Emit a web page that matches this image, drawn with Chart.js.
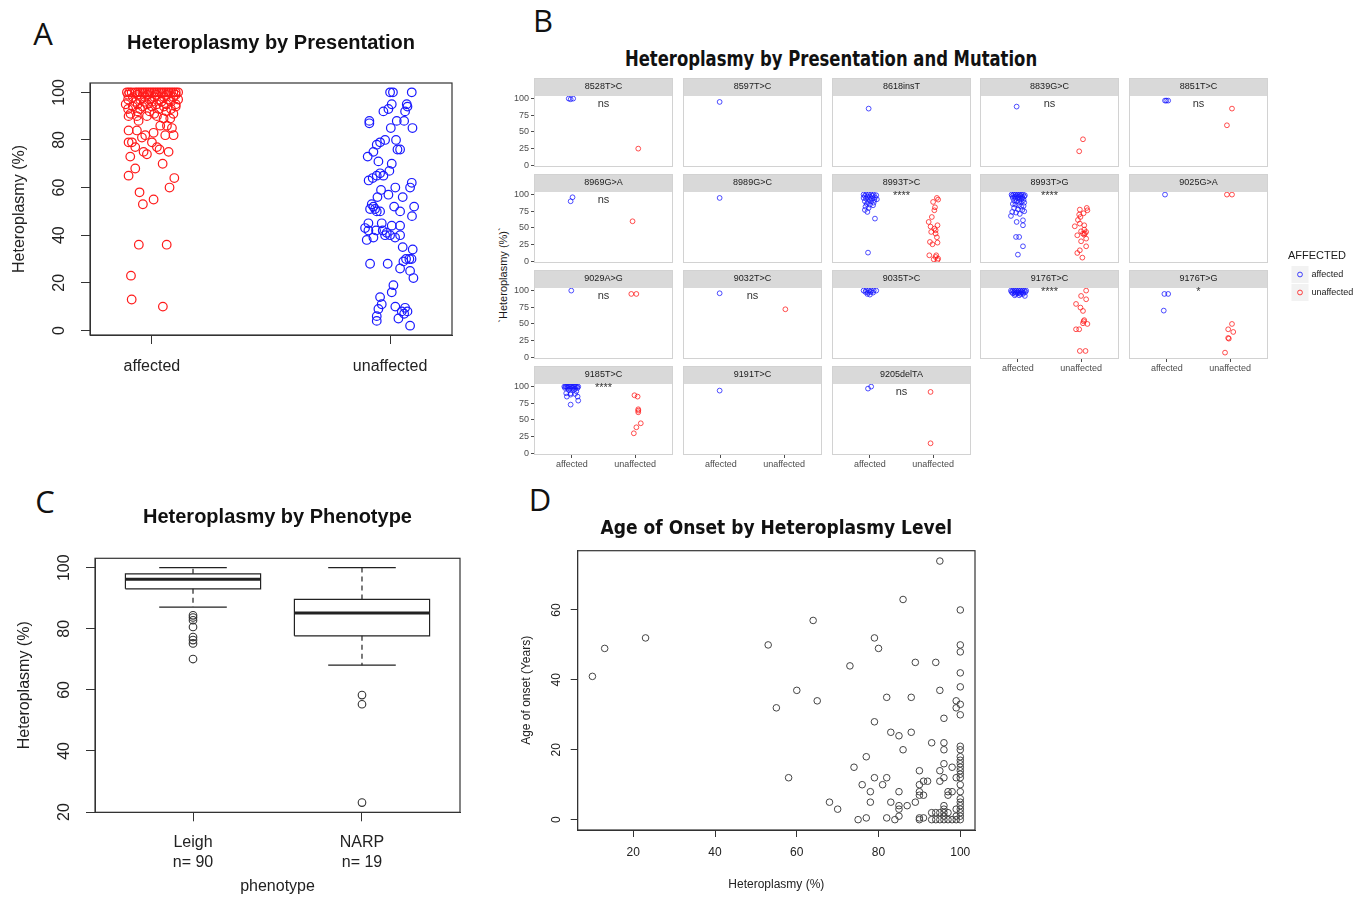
<!DOCTYPE html>
<html><head><meta charset="utf-8">
<script src="https://cdn.jsdelivr.net/npm/chart.js@4.4.1/dist/chart.umd.min.js"></script>
<style>
body{margin:0;background:#fff;width:1368px;height:899px;overflow:hidden;position:relative;font-family:'Liberation Sans',Arial,sans-serif;}
canvas{position:absolute;}
.t{position:absolute;white-space:nowrap;transform:translate(-50%,-50%);line-height:1;}
.letter{font-family:'Open Sans',sans-serif;font-size:31px;color:#111;}
</style></head><body>
<div class="t letter" style="left:43px;top:33px">A</div>
<div class="t letter" style="left:543px;top:20px">B</div>
<div class="t letter" style="left:45px;top:501px">C</div>
<div class="t letter" style="left:540px;top:499px">D</div>
<div class="t" style="left:831px;top:59px;transform:translate(-50%,-50%) scaleX(0.87);font-family:'Liberation Sans Narrow','DejaVu Sans Condensed','Liberation Sans',sans-serif;font-weight:bold;font-size:21px;color:#111">Heteroplasmy by Presentation and Mutation</div>
<div class="t" style="left:503px;top:275px;transform:translate(-50%,-50%) rotate(-90deg);font-size:11px;color:#1a1a1a">`Heteroplasmy (%)`</div>
<script>
// ---------------- DATA ----------------
// Panel A
const presentation = ['affected', 'unaffected'];
const presTicks = [0, 20, 40, 60, 80, 100];
const presAffected = [
 [0.895,100],[0.905,100],[0.915,100],[0.93,100],[0.94,100],[0.95,100],[0.96,100],[0.97,100],[0.98,100],[0.99,100],[1.0,100],[1.01,100],[1.02,100],[1.03,100],[1.04,100],[1.05,100],[1.06,100],[1.07,100],[1.08,100],[1.09,100],[1.1,100],[1.11,100],
 [0.9,99],[0.94,99],[0.98,99],[1.02,99],[1.06,99],[1.1,99],
 [0.92,98],[0.97,98],[1.01,98],[1.05,98],[1.09,98],
 [0.9,97],[0.95,97],[0.99,97],[1.03,97],[1.07,97],[1.11,97],
 [0.93,96],[0.97,96],[1.0,96],[1.04,96],[1.08,96],
 [0.89,95],[0.94,95],[0.98,95],[1.02,95],[1.06,95],[1.1,95],
 [0.92,94],[0.96,94],[1.0,94],[1.05,94],[1.1,94],
 [0.9,93],[0.95,93],[1.03,93],[1.08,93],
 [0.94,92],[0.99,92],[1.06,92],
 [0.91,91],[1.01,91],[1.09,91],
 [0.902,90],[0.937,90],[0.979,90],[1.021,90],[1.049,89],[1.077,89],[0.944,88],[1.035,86],[1.063,86],[1.084,85],
 [0.902,84],[0.937,84],[0.972,82],[1.007,83],[1.056,82],[1.091,82],[0.902,79],[0.916,79],[0.958,81],[0.93,77],
 [1.0,79],[1.021,77],[0.965,75],[0.979,74],[1.032,76],[1.07,75],[0.909,73],[1.045,70],[0.93,68],[0.902,65],
 [1.094,64],[1.074,60],[0.948,58],[1.007,55],[0.962,53],[0.945,36],[1.062,36],[0.912,23],[0.915,13],[1.046,10]
];
const presUnaffected = [
 [2.0,100],[2.012,100],[2.091,100],[2.007,95],[2.07,95],[2.073,94],[1.993,93],[1.972,92],[2.063,92],[2.028,88],
 [2.059,88],[1.913,88],[1.913,87],[2.003,85],[2.094,85],[2.025,80],[1.979,80],[1.958,79],[1.944,78],[1.93,75],
 [2.031,76],[2.042,76],[1.906,73],[1.951,71],[2.007,70],[1.997,67],[1.958,66],[1.944,65],[1.927,64],[1.91,63],
 [1.972,65],[2.091,62],[2.084,60],[2.022,60],[1.962,59],[1.993,57],[2.053,56],[1.947,56],[1.923,53],[1.93,52],
 [1.937,51],[1.944,50],[1.958,50],[1.916,51],[2.017,52],[2.101,52],[2.042,50],[2.092,48],[1.909,45],[1.965,45],
 [2.042,44],[2.007,44],[1.895,43],[1.909,42],[1.941,42],[1.969,42],[1.986,41],[1.979,40],[2.0,40],[2.042,40],
 [2.021,39],[1.93,39],[1.902,38],[2.053,35],[2.095,34],[2.067,30],[2.081,30],[2.09,30],[2.056,29],[1.916,28],
 [1.99,28],[2.042,26],[2.084,25],[2.098,22],[2.014,19],[2.007,16],[1.958,14],[1.965,11],[2.022,10],[1.951,9],
 [2.063,9.5],[2.049,8],[2.073,8],[2.059,7],[1.944,6],[2.035,5],[1.944,4],[2.084,2]
];

// Panel B
const mutations = ['8528T>C','8597T>C','8618insT','8839G>C','8851T>C','8969G>A','8989G>C','8993T>C','8993T>G','9025G>A','9029A>G','9032T>C','9035T>C','9176T>C','9176T>G','9185T>C','9191T>C','9205delTA'];
const sigLabels = ['ns','','','ns','ns','ns','','****','****','','ns','ns','','****','*','****','','ns'];
const facetTicks = [0, 25, 50, 75, 100];
const affectedLevels = ['affected', 'unaffected'];
const facetAffected = [
 [[0.95,100],[0.98,99],[1.02,100]],
 [[0.98,95]],
 [[0.98,85]],
 [[0.98,88]],
 [[0.97,97],[0.99,97],[1.02,97]],
 [[0.98,90],[1.01,96]],
 [[0.98,95]],
 [[0.9,100],[0.94,100],[0.98,100],[1.02,100],[1.06,100],[1.1,99],[0.92,98],[0.96,97],[1.0,97],[1.04,98],[1.08,96],[0.9,95],[0.94,94],[0.99,93],[1.03,94],[1.07,92],[1.11,93],[0.92,90],[0.97,89],[1.02,90],[1.06,88],[0.95,86],[1.0,85],[1.05,84],[0.93,82],[0.98,80],[0.92,77],[0.96,74],[1.08,64],[0.97,13]],
 [[0.9,100],[0.93,100],[0.96,100],[0.99,100],[1.02,100],[1.05,100],[1.08,100],[1.11,99],[0.91,98],[0.95,97],[0.98,98],[1.01,97],[1.04,98],[1.07,96],[1.1,97],[0.92,95],[0.96,94],[1.0,95],[1.03,93],[1.06,94],[1.09,92],[0.94,91],[0.98,90],[1.02,89],[1.06,90],[1.1,88],[0.92,86],[0.96,85],[1.01,84],[1.05,82],[1.09,83],[0.94,80],[1.0,78],[1.07,77],[0.91,74],[0.97,73],[1.03,71],[1.1,75],
  [0.89,68],[0.98,59],[1.08,61.5],[1.08,54],[0.97,36.5],[1.02,36.5],[1.08,22.5],[1.0,10]],
 [[0.97,100]],
 [[0.99,100]],
 [[0.98,96]],
 [[0.9,100],[0.94,100],[0.98,100],[1.02,100],[1.06,100],[1.1,100],[0.93,98],[0.97,97],[1.01,98],[1.05,97],[0.96,95],[1.0,94]],
 [[0.89,100],[0.92,100],[0.95,100],[0.98,100],[1.01,100],[1.04,100],[1.07,100],[1.1,100],[1.13,100],[0.9,98],[0.94,98],[0.97,97],[1.0,98],[1.03,97],[1.06,98],[1.09,97],[1.12,98],[0.92,96],[0.96,95],[1.0,96],[1.04,95],[1.08,95],[0.95,93],[1.02,93],[1.11,92]],
 [[0.96,95],[1.02,95],[0.95,70]],
 [[0.88,100],[0.9,100],[0.92,100],[0.94,100],[0.96,100],[0.98,100],[1.0,100],[1.02,100],[1.04,100],[1.06,100],[1.08,100],[1.1,100],[0.89,98],[0.93,98],[0.97,97],[1.01,98],[1.05,97],[1.09,98],[0.95,95],[1.03,95],[1.07,93],[0.91,90],[0.98,90],[1.05,89],[0.98,88],[0.92,85],[1.09,85],[1.1,79],[0.98,73]],
 [[0.98,94]],
 [[0.97,97],[1.02,100]]
];
const facetUnaffected = [
 [[2.05,25]],
 [],
 [],
 [[2.03,39],[1.97,21]],
 [[2.03,85],[1.95,60]],
 [[1.96,60]],
 [],
 [[2.08,92.5],[2.0,89],[2.06,95],[2.02,76.5],[2.03,81],[1.98,66.4],[1.93,59],[2.07,54],[1.96,52],[2.02,49],[2.04,46.5],[1.97,44],[2.04,41.5],[2.06,36],[1.95,29],[2.07,28],[1.99,25.5],[1.94,9],[2.05,9],[2.08,4],[2.04,6.5],[2.01,3],[2.07,2]],
 [[1.98,77.5],[2.09,80],[2.1,76.5],[2.04,72],[1.97,70],[1.99,66.5],[1.95,62],[1.98,56.5],[2.05,54],[1.9,52.5],[2.05,47.5],[2.0,45],[2.08,44],[2.06,42],[2.03,41.5],[2.05,40],[1.94,39],[2.08,34],[2.0,30],[2.08,22.5],[1.98,16.5],[1.94,12.5],[2.02,5.5]],
 [[1.95,100],[2.03,100]],
 [[1.94,95],[2.02,95]],
 [[2.02,72]],
 [],
 [[2.08,100],[2.0,92],[2.08,87],[1.92,80],[1.99,74.5],[2.03,69.5],[2.05,55.7],[2.04,54],[2.03,51],[2.1,50],[1.97,42],[1.92,42],[1.98,9.5],[2.07,9.5]],
 [[2.03,50],[1.97,42],[2.05,38],[1.97,29],[1.98,28],[1.92,7]],
 [[1.99,87],[2.04,85],[2.05,66],[2.05,64],[2.05,61.5],[2.09,45],[2.02,39],[1.98,30]],
 [],
 [[1.96,92],[1.96,15]]
];

// Panel C
const phenotypes = ['Leigh', 'NARP'];
const phenoN = [90, 19];
const phenoTicks = [20, 40, 60, 80, 100];
const boxQ1 = [93.1, 77.7];
const boxMedian = [96.2, 85.2];
const boxQ3 = [98.0, 89.6];
const whiskerLow = [87.1, 68.1];
const whiskerHigh = [100, 100];
const phenoOutliers = [[84.4, 83.7, 82.8, 80.6, 77.3, 76.3, 75.2, 70.1], [58.3, 55.3, 23.1]];

// Panel D
const hetTicks = [20, 40, 60, 80, 100];
const ageTicks = [0, 20, 40, 60];
const onsetHet = [10,13,23,53,55,58,60,64,65,68,70,73,74,75,76,77,77,78,78,79,79,79,80,81,82,82,82,83,83,84,85,85,85,85,85,86,86,87,88,88,89,89,90,90,90,90,90,90,91,91,91,92,93,93,93,94,94,94,95,95,95,95,95,95,96,96,96,96,96,96,96,96,96,96,97,97,97,97,98,98,98,99,99,99,99,99,99,100,100,100,100,100,100,100,100,100,100,100,100,100,100,100,100,100,100,100,100,100,100,100,100,100,100];
const onsetAge = [41,49,52,50,32,12,37,57,34,5,3,44,15,0,10,18,0.5,8,5,52,28,12,49,10,35,12,0.5,25,5,0,24,8,4,3,1,63,20,4,35,25,45,5,14,10,8,7,0.5,0,11,7,0.5,11,22,2,0,45,2,0,74,37,14,11,2,0,29,22,20,16,12,4,3,2,1,0,8,7,2,0,15,8,0,34,32,12,3,1,0,60,50,48,42,38,33,30,21,20,18,17,16,15,14,13,12,10,8,6,5,4,3,2,1,0];

// ---------------- HELPERS ----------------
Chart.defaults.font.family = "'Liberation Sans', Arial, sans-serif";
Chart.defaults.animation = false;
Chart.defaults.responsive = false;
Chart.defaults.maintainAspectRatio = false;
Chart.defaults.devicePixelRatio = 1;
Chart.defaults.plugins.legend.display = false;
Chart.defaults.plugins.tooltip.enabled = false;

function addCanvas(left, top, w, h) {
  const c = document.createElement('canvas');
  c.width = w; c.height = h;
  c.style.left = left + 'px'; c.style.top = top + 'px';
  c.style.width = w + 'px'; c.style.height = h + 'px';
  document.body.appendChild(c);
  return c;
}
const fixedTicks = vals => scale => { scale.ticks = vals.map(v => ({ value: v })); };
const toPts = arr => arr.map(p => ({ x: p[0], y: p[1] }));

const framePlugin = {
  id: 'frame',
  afterDatasetsDraw(chart, args, opts) {
    const { ctx, chartArea: a } = chart;
    ctx.save();
    ctx.strokeStyle = opts.color || '#333';
    ctx.lineWidth = opts.width || 1;
    ctx.strokeRect(a.left, a.top, a.right - a.left, a.bottom - a.top);
    ctx.restore();
  }
};

function rYAxis(o) {
  return {
    type: 'linear', min: o.min, max: o.max,
    afterBuildTicks: fixedTicks(o.ticks),
    afterFit: s => { s.width = o.width; },
    ticks: { autoSkip: false, minRotation: 90, maxRotation: 90, crossAlign: 'center', padding: o.pad,
      font: { size: o.size }, color: '#222', callback: v => String(v) },
    grid: { display: true, drawOnChartArea: false, drawTicks: true, tickLength: o.tl, color: '#333' },
    border: { display: true, color: '#333' },
    title: { display: true, text: o.title, font: { size: o.titleSize }, color: '#222', padding: { top: o.titlePad, bottom: 0 } }
  };
}
function rXAxis(o) {
  return {
    type: 'linear', min: o.min, max: o.max,
    afterBuildTicks: fixedTicks(o.ticks),
    afterFit: s => { s.height = o.height; },
    ticks: { autoSkip: false, minRotation: 0, maxRotation: 0, padding: o.pad,
      font: { size: o.size, lineHeight: o.lh || 1.2 }, color: '#222', callback: o.cb || (v => String(v)) },
    grid: { display: true, drawOnChartArea: false, drawTicks: true, tickLength: o.tl, color: '#333' },
    border: { display: true, color: '#333' },
    title: o.title ? { display: true, text: o.title, font: { size: o.titleSize }, color: '#222', padding: { top: 0, bottom: o.titlePad } } : { display: false }
  };
}

// ---------------- PANEL A ----------------
new Chart(addCanvas(0, 20, 462, 375), {
  type: 'scatter',
  data: { datasets: [
    { data: toPts(presAffected), borderColor: '#ff1a1a', backgroundColor: 'rgba(0,0,0,0)', pointRadius: 4.3, borderWidth: 1.2 },
    { data: toPts(presUnaffected), borderColor: '#1a1aff', backgroundColor: 'rgba(0,0,0,0)', pointRadius: 4.3, borderWidth: 1.2 }
  ]},
  options: {
    layout: { padding: { left: 0, right: 10, top: 0, bottom: 0 } },
    scales: {
      x: rXAxis({ min: 0.74, max: 2.26, ticks: [1, 2], height: 60, pad: 13, size: 16, tl: 9, cb: v => presentation[v - 1] }),
      y: rYAxis({ min: -1.92, max: 103.92, ticks: presTicks, width: 90, pad: 7.7, size: 16, tl: 9, title: 'Heteroplasmy (%)', titleSize: 16, titlePad: 10.4 })
    },
    plugins: {
      title: { display: true, fullSize: false, text: 'Heteroplasmy by Presentation', font: { size: 20, weight: 'bold' }, color: '#111', padding: { top: 11, bottom: 28 } },
      frame: { color: '#333', width: 1.2 }
    }
  },
  plugins: [framePlugin]
});

// ---------------- PANEL B ----------------
const facetLeft = [534, 683, 832, 980, 1129];
const facetTop = [96, 192, 288, 384];
const stripPlugin = {
  id: 'strip',
  beforeDraw(chart) {
    const t = chart.titleBlock, a = chart.chartArea, ctx = chart.ctx;
    ctx.save();
    ctx.fillStyle = '#d9d9d9';
    ctx.fillRect(a.left, t.top, a.right - a.left, a.top - t.top);
    ctx.restore();
  },
  afterDatasetsDraw(chart) {
    const t = chart.titleBlock, a = chart.chartArea, ctx = chart.ctx;
    ctx.save();
    ctx.strokeStyle = '#d2d2d2'; ctx.lineWidth = 1;
    ctx.strokeRect(a.left + 0.5, t.top + 0.5, a.right - a.left - 1, a.bottom - t.top - 1);
    ctx.restore();
  }
};
const sigPlugin = {
  id: 'sig',
  afterDatasetsDraw(chart, args, opts) {
    if (!opts.text) return;
    const { ctx, scales: { x, y } } = chart;
    ctx.save();
    ctx.font = "11px 'Liberation Sans', Arial, sans-serif";
    ctx.fillStyle = '#333'; ctx.textAlign = 'center'; ctx.textBaseline = 'middle';
    ctx.fillText(opts.text, x.getPixelForValue(1.5), y.getPixelForValue(opts.text === 'ns' ? 92 : 98));
    ctx.restore();
  }
};
mutations.forEach((m, i) => {
  const col = i % 5, row = Math.floor(i / 5);
  const first = col === 0;
  const bottom = col < 3 ? row === 3 : row === 2;
  const cv = addCanvas(facetLeft[col] - 25, facetTop[row] - 19, 25 + 142 + 2, 19 + 71 + 16);
  new Chart(cv, {
    type: 'scatter',
    data: { datasets: [
      { data: toPts(facetAffected[i]), borderColor: 'rgba(20,20,255,0.75)', backgroundColor: 'rgba(0,0,0,0)', pointRadius: 2.4, borderWidth: 1 },
      { data: toPts(facetUnaffected[i]), borderColor: 'rgba(255,20,20,0.75)', backgroundColor: 'rgba(0,0,0,0)', pointRadius: 2.4, borderWidth: 1 }
    ]},
    options: {
      layout: { padding: { left: 0, right: 2, top: 1, bottom: 0 } },
      scales: {
        x: {
          type: 'linear', min: 0.4, max: 2.6, afterBuildTicks: fixedTicks([1, 2]),
          afterFit: s => { s.height = 16; },
          ticks: { display: bottom, autoSkip: false, minRotation: 0, maxRotation: 0, padding: 1.6, font: { size: 9 }, color: '#4d4d4d', callback: v => affectedLevels[v - 1] },
          grid: { display: bottom, drawOnChartArea: false, tickLength: 3, color: '#4d4d4d' },
          border: { display: false }
        },
        y: {
          type: 'linear', min: -2.55, max: 103.9, afterBuildTicks: fixedTicks(facetTicks),
          afterFit: s => { s.width = 25; },
          ticks: { display: first, autoSkip: false, padding: 2, font: { size: 9 }, color: '#4d4d4d', callback: v => String(v) },
          grid: { display: first, drawOnChartArea: false, tickLength: 3, color: '#4d4d4d' },
          border: { display: false }
        }
      },
      plugins: {
        title: { display: true, fullSize: false, text: m, font: { size: 9, weight: 'normal' }, color: '#1a1a1a', padding: { top: 3.6, bottom: 3.6 } },
        sig: { text: sigLabels[i] }
      }
    },
    plugins: [stripPlugin, sigPlugin]
  });
});
// legend (keys drawn with grey ggplot-style background)
const legendColors = ['rgba(20,20,255,0.8)', 'rgba(255,20,20,0.8)'];
const keyPlugin = {
  id: 'keys',
  afterDraw(chart) {
    const lg = chart.legend; if (!lg || !lg.legendHitBoxes) return;
    const ctx = chart.ctx;
    ctx.save();
    lg.legendHitBoxes.forEach((hb, i) => {
      const cx = hb.left + 7, cy = hb.top + hb.height / 2;
      ctx.fillStyle = '#f2f2f2';
      ctx.fillRect(cx - 8.5, cy - 8.5, 17, 17);
      ctx.strokeStyle = legendColors[i]; ctx.lineWidth = 1;
      ctx.beginPath(); ctx.arc(cx, cy, 2.4, 0, Math.PI * 2); ctx.stroke();
    });
    ctx.restore();
  }
};
new Chart(addCanvas(1288, 250, 80, 150), {
  type: 'scatter',
  data: { datasets: affectedLevels.map((lv, i) => ({ label: lv, data: [], borderColor: legendColors[i], backgroundColor: 'rgba(0,0,0,0)', borderWidth: 1 })) },
  options: {
    layout: { padding: 0 },
    scales: { x: { display: false }, y: { display: false } },
    plugins: {
      legend: { display: true, position: 'top', align: 'start', maxHeight: 120,
        title: { display: true, text: 'AFFECTED', color: '#1a1a1a', font: { size: 11, lineHeight: 1 }, padding: { top: 0, bottom: 2 }, position: 'start' },
        labels: { boxWidth: 14, boxHeight: 13, font: { size: 9 }, color: '#1a1a1a', padding: 5,
          generateLabels: ch => ch.data.datasets.map((d, i) => ({ text: d.label, fillStyle: 'rgba(0,0,0,0)', strokeStyle: 'rgba(0,0,0,0)', lineWidth: 0, datasetIndex: i, fontColor: '#1a1a1a' })) } }
    }
  },
  plugins: [keyPlugin]
});

// ---------------- PANEL C ----------------
(function () {
  const boxes = [], medians = [], whiskers = [], caps = [], outl = [];
  phenotypes.forEach((p, i) => {
    const c = i + 1;
    boxes.push({x: c - 0.4, y: boxQ1[i]}, {x: c + 0.4, y: boxQ1[i]}, {x: c + 0.4, y: boxQ3[i]}, {x: c - 0.4, y: boxQ3[i]}, {x: c - 0.4, y: boxQ1[i]}, {x: c, y: null});
    medians.push({x: c - 0.4, y: boxMedian[i]}, {x: c + 0.4, y: boxMedian[i]}, {x: c, y: null});
    whiskers.push({x: c, y: boxQ3[i]}, {x: c, y: whiskerHigh[i]}, {x: c, y: null}, {x: c, y: boxQ1[i]}, {x: c, y: whiskerLow[i]}, {x: c, y: null});
    caps.push({x: c - 0.2, y: whiskerHigh[i]}, {x: c + 0.2, y: whiskerHigh[i]}, {x: c, y: null}, {x: c - 0.2, y: whiskerLow[i]}, {x: c + 0.2, y: whiskerLow[i]}, {x: c, y: null});
    phenoOutliers[i].forEach(v => outl.push({x: c, y: v}));
  });
  const seg = (data, w, dash) => ({ data, showLine: true, spanGaps: false, borderColor: '#222', borderWidth: w, borderDash: dash || [], pointRadius: 0, tension: 0, fill: false });
  new Chart(addCanvas(0, 490, 470, 409), {
    type: 'scatter',
    data: { datasets: [
      seg(boxes, 1.2), seg(medians, 3), seg(whiskers, 1.2, [5, 4]), seg(caps, 1.2),
      { data: outl, borderColor: '#333', backgroundColor: 'rgba(0,0,0,0)', pointRadius: 3.8, borderWidth: 1.1 }
    ]},
    options: {
      layout: { padding: { left: 0, right: 10, top: 0, bottom: 0 } },
      scales: {
        x: rXAxis({ min: 0.42, max: 2.58, ticks: [1, 2], height: 86.7, pad: 11.7, size: 16, lh: 1.25, tl: 9, cb: v => [phenotypes[v - 1], 'n= ' + phenoN[v - 1]], title: 'phenotype', titleSize: 16, titlePad: 2.4 }),
        y: rYAxis({ min: 19.92, max: 103.08, ticks: phenoTicks, width: 95, pad: 7.7, size: 16, tl: 9, title: 'Heteroplasmy (%)', titleSize: 16, titlePad: 15.4 })
      },
      plugins: {
        title: { display: true, fullSize: false, text: 'Heteroplasmy by Phenotype', font: { size: 20, weight: 'bold' }, color: '#111', padding: { top: 15, bottom: 29.3 } },
        frame: { color: '#333', width: 1.2 }
      }
    },
    plugins: [framePlugin]
  });
})();

// ---------------- PANEL D ----------------
new Chart(addCanvas(500, 500, 480, 399), {
  type: 'scatter',
  data: { datasets: [
    { data: onsetHet.map((h, i) => ({ x: h, y: onsetAge[i] })), borderColor: '#444', backgroundColor: 'rgba(0,0,0,0)', pointRadius: 3.3, borderWidth: 1 }
  ]},
  options: {
    layout: { padding: { left: 0, right: 5, top: 0, bottom: 0 } },
    scales: {
      x: rXAxis({ min: 6.4, max: 103.6, ticks: hetTicks, height: 69, pad: 8.8, size: 12, tl: 7, title: 'Heteroplasmy (%)', titleSize: 12, titlePad: 6.8 }),
      y: rYAxis({ min: -2.96, max: 76.96, ticks: ageTicks, width: 77.7, pad: 7.3, size: 12, tl: 7, title: 'Age of onset (Years)', titleSize: 12, titlePad: 19.5 })
    },
    plugins: {
      title: { display: true, fullSize: false, text: 'Age of Onset by Heteroplasmy Level',
        font: { size: 19, weight: 'bold', family: "'Liberation Sans Narrow', 'DejaVu Sans Condensed', 'Liberation Sans', sans-serif" },
        color: '#111', padding: { top: 17.6, bottom: 10.3 } },
      frame: { color: '#333', width: 1.2 }
    }
  },
  plugins: [framePlugin]
});
</script>
</body></html>
